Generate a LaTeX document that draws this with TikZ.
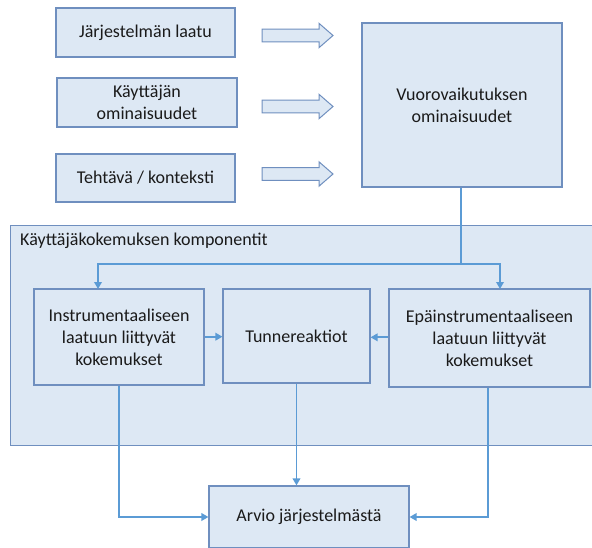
\documentclass[tikz,border=0pt]{standalone}
\usepackage{fontspec}
\setmainfont{Carlito}
\usetikzlibrary{arrows.meta}
\definecolor{boxfill}{HTML}{DDE8F4}
\definecolor{boxline}{HTML}{6F8FBF}
\definecolor{linkblue}{HTML}{5B9BD5}
\definecolor{txt}{HTML}{1A1A1A}
\tikzset{
  box/.style={draw=boxline, fill=boxfill, line width=1.1pt, align=center,
    text=txt, inner sep=2pt, font=\fontsize{18}{22}\selectfont},
  link/.style={draw=linkblue, line width=1.8pt,
    -{Triangle[length=7pt,width=7.5pt]}},
  plain/.style={draw=linkblue, line width=1.8pt},
  blockarrow/.pic={
    \draw[draw=boxline, fill=boxfill, line width=1pt, line join=miter]
      (0,-6.3) -- (57,-6.3) -- (57,-12.2) -- (71,0) -- (57,12.2)
      -- (57,6.3) -- (0,6.3) -- cycle;
  }
}
\begin{document}
\begin{tikzpicture}[x=1pt,y=-1pt]
\useasboundingbox (0,0) rectangle (592,547);

% input factors
\node[box, minimum width=179pt, minimum height=49pt] (laatu) at (145.5,32.5) {Järjestelmän laatu};
\node[box, minimum width=180pt, minimum height=49pt] (kayttaja) at (147,102.5) {Käyttäjän\\ominaisuudet};
\node[box, minimum width=179pt, minimum height=48pt] (tehtava) at (145.5,178) {Tehtävä / konteksti};

% block arrows towards the interaction box
\pic at (262,35.5) {blockarrow};
\pic at (262,106.5) {blockarrow};
\pic at (262,174) {blockarrow};

\node[box, minimum width=200pt, minimum height=164pt] (vuoro) at (462,105) {Vuorovaikutuksen\\ominaisuudet};

% component container
\node[box, anchor=north west, minimum width=586pt, minimum height=220pt] (komp) at (10,225) {};
\node[anchor=west, text=txt, font=\fontsize{18}{22}\selectfont, inner sep=0pt] (kompt) at (20,241) {Käyttäjäkokemuksen komponentit};

\node[box, minimum width=170pt, minimum height=96pt] (instr) at (119,337) {Instrumentaaliseen\\laatuun liittyvät\\kokemukset};
\node[box, minimum width=147pt, minimum height=94pt] (tunne) at (296.5,336) {Tunnereaktiot};
\node[box, minimum width=201pt, minimum height=98pt] (epa) at (489.5,338) {Epäinstrumentaaliseen\\laatuun liittyvät\\kokemukset};

\node[box, minimum width=200pt, minimum height=62pt] (arvio) at (309,517) {Arvio järjestelmästä};

% split of the interaction line
\coordinate (split) at (461,264);
\coordinate (inIn) at (98,289);
\coordinate (inEpa) at (500,289);
\draw[plain] (vuoro.south -| split) -- (split);
\draw[link] (split) -| (inIn);
\draw[link] (split) -| (inEpa);

% links between the components
\draw[link] (instr.east |- 0,336.7) -- (tunne.west |- 0,336.7);
\draw[link] (epa.west |- 0,337.3) -- (tunne.east |- 0,337.3);

% links to the evaluation
\draw[link] (instr.south) |- (arvio.west);
\draw[link] (tunne.south) -- (tunne.south |- arvio.north);
\draw[link] (epa.south -| 488,0) |- (arvio.east);
\end{tikzpicture}
\end{document}
